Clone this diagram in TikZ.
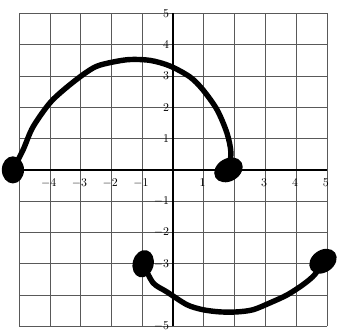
\documentclass[tikz,border=0pt]{standalone}
\usepackage{tikz}
\usetikzlibrary{shapes.geometric}

\begin{document}
\begin{tikzpicture}[
  x=1cm,y=1.016cm,
  every node/.style={font=\fontsize{11}{13}\selectfont,inner sep=0pt},
  gridline/.style={black!65,line width=0.7pt},
  axisline/.style={black,line width=1.2pt},
  curve/.style={line width=5pt,line cap=round,line join=round},
  dot/.style={ellipse,fill=black,draw=none}
]
\useasboundingbox (-5.62,-5.30) rectangle (5.39,5.43);
% grid
\foreach \k in {-5,...,5} {
  \draw[gridline] (\k,-5) -- (\k,5);
  \draw[gridline] (-5,\k) -- (5,\k);
}
\draw[axisline] (-5,0) -- (5,0);
\draw[axisline] (0,-5) -- (0,5);
% tick labels
\foreach \v in {-4,-3,-2,-1,1,3,4,5}
  \node (xl\v) at (\v-0.04,-0.42) {$\v$};
\foreach \v in {5,4,3,2,1,-1,-2,-3,-5}
  \node[anchor=east] (yl\v) at (-0.12,\v) {$\v$};
% end points
\node[dot,minimum width=0.72cm,minimum height=0.88cm] (ul) at (-5.2,0) {};
\node[dot,minimum width=0.98cm,minimum height=0.74cm,rotate=30] (ur) at (1.8,0) {};
\node[dot,minimum width=0.68cm,minimum height=0.9cm,rotate=-15] (ll) at (-0.97,-3.0) {};
\node[dot,minimum width=0.96cm,minimum height=0.72cm,rotate=35] (lr) at (4.87,-2.92) {};
% the two arcs
\draw[curve] plot[smooth] coordinates {(ul.center) (-4.87,0.64) (-4.55,1.37)
  (-4.0,2.14) (-3.44,2.65) (-2.8,3.13) (-2.37,3.35) (-1.5,3.52) (-0.75,3.5)
  (-0.1,3.32) (0.55,2.97) (0.97,2.56) (1.43,1.92) (1.75,1.18) (1.88,0.55) (ur.center)};
\draw[curve] plot[smooth] coordinates {(ll.center) (-0.65,-3.61) (-0.2,-3.9)
  (0.45,-4.31) (0.97,-4.47) (1.53,-4.54) (2.08,-4.54) (2.6,-4.47) (3.15,-4.25)
  (3.7,-4.0) (4.22,-3.67) (4.6,-3.35) (lr.center)};
\end{tikzpicture}
\end{document}
